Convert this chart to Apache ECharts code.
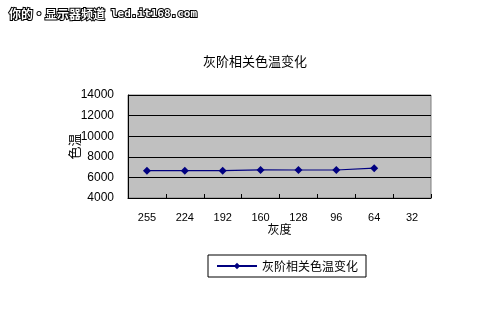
<!DOCTYPE html>
<html><head><meta charset="utf-8">
<script src="https://cdn.jsdelivr.net/npm/echarts@6/dist/echarts.min.js"></script>
<style>html,body{margin:0;padding:0;background:#fff}#c{width:500px;height:325px}</style>
</head><body><div id="c"></div>
<script>
const categories = ['255','224','192','160','128','96','64','32'];
const colorTemp = [6650, 6650, 6650, 6730, 6720, 6720, 6900, null];
const seriesName = '灰阶相关色温变化';
const yTicks = [4000, 14000, 2000];

const chart = echarts.init(document.getElementById('c'));
chart.setOption({
  animation: false,
  backgroundColor: '#ffffff',
  title: {
    text: seriesName, left: 250, top: 50, textAlign: 'center',
    textStyle: {fontFamily: 'Noto Sans CJK SC', fontSize: 13, fontWeight: 'normal', color: '#000'}
  },
  graphic: [{
    type: 'text', left: 8, top: 7,
    style: {text: '你的·显示器频道', fill: '#fff', stroke: '#000', lineWidth: 2,
      font: 'bold 12px "Noto Sans CJK SC"'}
  }, {
    type: 'text', left: 110, top: 8,
    style: {text: 'led.it168.com', fill: '#fff', stroke: '#000', lineWidth: 2,
      font: 'bold 11px "DejaVu Sans Mono"'}
  }],
  grid: {left: 128, right: 69, top: 95, bottom: 127, show: true, backgroundColor: '#c0c0c0', borderColor: '#808080', borderWidth: 1},
  legend: {
    data: [seriesName], left: 208, top: 255, itemWidth: 40, itemHeight: 8,
    padding: [5, 8, 5, 8], borderColor: '#000', borderWidth: 1,
    textStyle: {fontFamily: 'Noto Sans CJK SC', fontSize: 12, color: '#000'}
  },
  xAxis: {
    type: 'category', data: categories, boundaryGap: true,
    name: '灰度', nameLocation: 'middle', nameGap: 22,
    nameTextStyle: {fontFamily: 'Noto Sans CJK SC', fontSize: 12, color: '#000'},
    axisLine: {lineStyle: {color: '#000'}},
    axisTick: {show: true, inside: true, length: 4, lineStyle: {color: '#000'}},
    axisLabel: {color: '#000', fontFamily: 'Liberation Sans', fontSize: 11, margin: 14}
  },
  yAxis: {
    type: 'value', min: yTicks[0], max: yTicks[1], interval: yTicks[2],
    name: '色温', nameLocation: 'middle', nameGap: 47, nameRotate: 90, nameMoveOverlap: false,
    nameTextStyle: {fontFamily: 'Noto Sans CJK SC', fontSize: 13, color: '#000'},
    axisLine: {show: true, lineStyle: {color: '#000'}},
    axisTick: {show: false},
    axisLabel: {color: '#000', fontFamily: 'Liberation Sans', fontSize: 12, margin: 14, formatter: v => String(v)},
    splitLine: {show: true, lineStyle: {color: '#000', width: 1}}
  },
  series: [{
    name: seriesName, type: 'line', data: colorTemp,
    symbol: 'diamond', symbolSize: 8,
    itemStyle: {color: '#000080'},
    lineStyle: {color: '#000080', width: 1.2}
  }]
});
</script></body></html>
